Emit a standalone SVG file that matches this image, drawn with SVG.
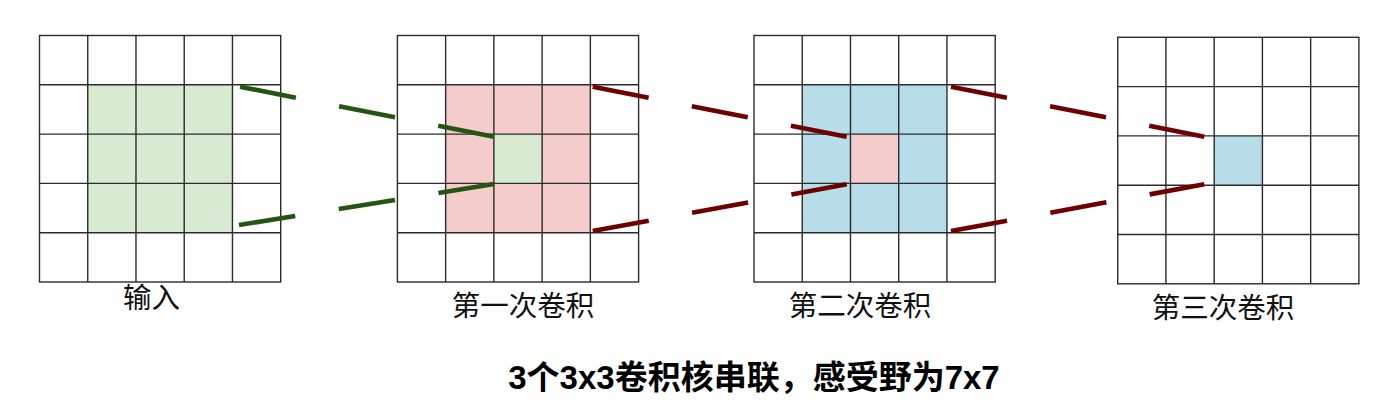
<svg xmlns="http://www.w3.org/2000/svg" xmlns:xlink="http://www.w3.org/1999/xlink" width="1399" height="404" viewBox="0 0 1399 404">
  <style>
    .grid { fill: none; stroke: #2b2b2b; stroke-width: 1.4; }
    .green { fill: #d9ead3; }
    .pink { fill: #f4cccc; }
    .blue { fill: #b7dde8; }
    .lbl { font-family: "Noto Sans CJK SC", "Noto Sans", sans-serif; font-size: 28.5px; fill: #111; text-anchor: middle; }
    .title { font-family: "Liberation Sans", "Noto Sans CJK SC", sans-serif; font-size: 33px; font-weight: bold; fill: #000; text-anchor: middle; }
    .cg { stroke: #245512; stroke-width: 4.6; stroke-dasharray: 57 44; fill: none; }
    .cr { stroke: #6e0000; stroke-width: 4.6; stroke-dasharray: 57 44; fill: none; }
  </style>
  <defs>
    <g id="gridlines">
      <rect class="grid" x="0" y="0" width="241.2" height="246.5"/>
      <path class="grid" d="M48.24 0V246.5M96.48 0V246.5M144.72 0V246.5M192.96 0V246.5M0 49.3H241.2M0 98.6H241.2M0 147.9H241.2M0 197.2H241.2"/>
    </g>
  </defs>
  <rect width="1399" height="404" fill="#fff"/>

  <g id="input">
    <rect class="green" x="87.7" y="84.8" width="144.7" height="147.9"/>
    <use xlink:href="#gridlines" x="39.5" y="35.5"/>
    <text class="lbl" x="151.5" y="308">输入</text>
  </g>

  <g id="conv1">
    <rect class="pink" x="445.7" y="84.8" width="144.7" height="147.9"/>
    <rect class="green" x="493.9" y="134.1" width="48.3" height="49.3"/>
    <use xlink:href="#gridlines" x="397.4" y="35.5"/>
    <text class="lbl" x="523" y="316">第一次卷积</text>
  </g>

  <g id="conv2">
    <rect class="blue" x="802.2" y="84.8" width="144.7" height="147.9"/>
    <rect class="pink" x="850.4" y="134.1" width="48.3" height="49.3"/>
    <use xlink:href="#gridlines" x="754" y="35.5"/>
    <text class="lbl" x="860" y="316">第二次卷积</text>
  </g>

  <g id="conv3">
    <rect class="blue" x="1214" y="136" width="48.1" height="49.3"/>
    <use xlink:href="#gridlines" x="1117.7" y="37.3"/>
    <text class="lbl" x="1223" y="318">第三次卷积</text>
  </g>

  <g id="connectors">
    <line class="cg" x1="240" y1="86.7" x2="494" y2="136.7"/>
    <line class="cg" x1="239" y1="225" x2="494" y2="184"/>
    <line class="cr" x1="592.7" y1="86.7" x2="846.7" y2="136.7"/>
    <line class="cr" x1="592.7" y1="231" x2="846.7" y2="184.3"/>
    <line class="cr" x1="951" y1="86.7" x2="1204.3" y2="136.7"/>
    <line class="cr" x1="951" y1="231" x2="1204.3" y2="184.3"/>
  </g>

  <text class="title" x="754" y="389">3个3x3卷积核串联，感受野为7x7</text>
</svg>
